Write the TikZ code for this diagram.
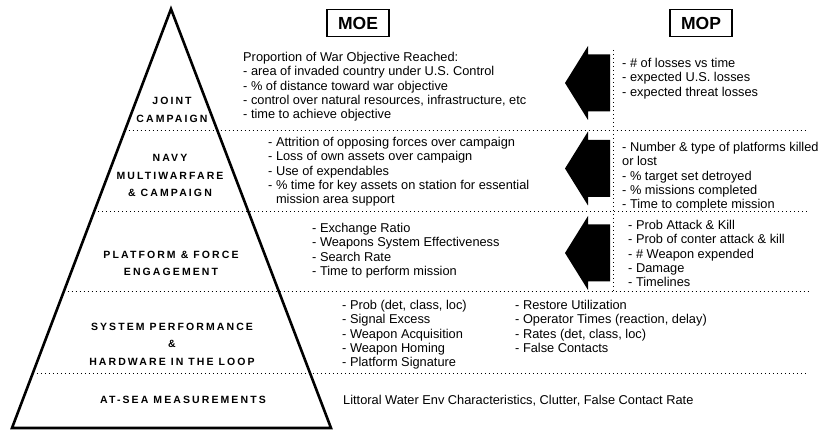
\documentclass[tikz,border=0pt]{standalone}
\usepackage{fontspec}
\setmainfont{Liberation Sans}
\newfontfamily\lvlfont[LetterSpace=20]{Liberation Sans}
\begin{document}
\begin{tikzpicture}[x=1pt,y=-1pt,
  tri/.style={line width=2.6pt, line join=miter},
  sepline/.style={line width=1pt, dash pattern=on 1pt off 3pt},
  blk/.style={anchor=north west, inner sep=0pt, align=left,
    font=\fontsize{12.8}{14.3}\selectfont},
  lvl/.style={align=center, inner sep=0pt,
    font=\lvlfont\bfseries\fontsize{10.5}{17.5}\selectfont},
  hdr/.style={draw, line width=1.2pt, minimum width=62pt, minimum height=27pt,
    inner sep=0pt, font=\bfseries\fontsize{17.5}{20}\selectfont},
  bigarrow/.style={fill=black}]
\useasboundingbox (0,0) rectangle (827,430);
\fill[white] (0,0) rectangle (827,430);

% pyramid
\coordinate (apex) at (171,9);
\coordinate (bl) at (12,428);
\coordinate (br) at (331,428);
\draw[tri] (apex) -- (bl) -- (br) -- cycle;

% level separators
\draw[sepline] (124.7,131) -- (808,131);
\draw[sepline] (94.0,212) -- (808,212);
\draw[sepline] (63.6,292) -- (808,292);
\draw[sepline] (32.9,373) -- (808,373);
\draw[sepline] (613,50) -- (613,292);

% column headers
\node[hdr] (moe) at (358,23) {MOE};
\node[hdr] (mop) at (701,23) {MOP};

% level names
\node[lvl] (l1) at (172,110) {JOINT\\CAMPAIGN};
\node[lvl] (l2) at (170,175.5) {NAVY\\MULTIWARFARE\\\& CAMPAIGN};
\node[lvl] (l3) at (171,263.5) {PLATFORM \& FORCE\\ENGAGEMENT};
\node[lvl] (l4) at (172,344) {SYSTEM PERFORMANCE\\\&\\HARDWARE IN THE LOOP};
\node[lvl] (l5) at (183,400) {AT-SEA MEASUREMENTS};

% measures of effectiveness
\node[blk] (moe1) at (243,52) {Proportion of War Objective Reached:\\
- area of invaded country under U.S. Control\\
- \% of distance toward war objective\\
- control over natural resources, infrastructure, etc\\
- time to achieve objective};
\node[blk] (moe2) at (268,137) {- Attrition of opposing forces over campaign\\
- Loss of own assets over campaign\\
- Use of expendables\\
- \% time for key assets on station for essential\\
\phantom{- }mission area support};
\node[blk] (moe3) at (312,223) {- Exchange Ratio\\
- Weapons System Effectiveness\\
- Search Rate\\
- Time to perform mission};
\node[blk] (moe4a) at (342,300) {- Prob (det, class, loc)\\
- Signal Excess\\
- Weapon Acquisition\\
- Weapon Homing\\
- Platform Signature};
\node[blk] (moe4b) at (515,300) {- Restore Utilization\\
- Operator Times (reaction, delay)\\
- Rates (det, class, loc)\\
- False Contacts};
\node[blk] (moe5) at (343,395) {Littoral Water Env Characteristics, Clutter, False Contact Rate};

% measures of performance
\node[blk] (mop1) at (622,58) {- \# of losses vs time\\
- expected U.S. losses\\
- expected threat losses};
\node[blk] (mop2) at (622,142) {- Number \& type of platforms killed\\
or lost\\
- \% target set detroyed\\
- \% missions completed\\
- Time to complete mission};
\node[blk] (mop3) at (628,220) {- Prob Attack \& Kill\\
- Prob of conter attack \& kill\\
- \# Weapon expended\\
- Damage\\
- Timelines};

% block arrows from MOP to MOE
\foreach \yc in {83,168.5,253}{
  \fill[bigarrow] (565,\yc) -- (588,\yc-37) -- (588,\yc-28.5) -- (610,\yc-28.5)
    -- (610,\yc+28.5) -- (588,\yc+28.5) -- (588,\yc+37) -- cycle;
}
\end{tikzpicture}
\end{document}
